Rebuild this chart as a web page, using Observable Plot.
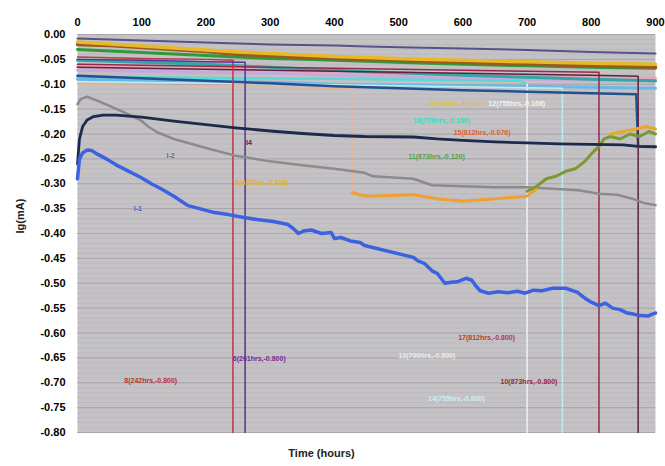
<!DOCTYPE html>
<html>
<head>
<meta charset="utf-8">
<script src="https://cdn.jsdelivr.net/npm/d3@7"></script>
<script src="https://cdn.jsdelivr.net/npm/@observablehq/plot@0.6"></script>
<style>
  html, body { margin: 0; padding: 0; background: #ffffff; }
  #chart svg { display: block; }
</style>
</head>
<body>
<div id="chart"></div>
<script>
// ---- axis ticks ----
const xTicks = [0, 100, 200, 300, 400, 500, 600, 700, 800, 900];
const yTicks = [0, -0.05, -0.10, -0.15, -0.20, -0.25, -0.30, -0.35, -0.40, -0.45, -0.50, -0.55, -0.60, -0.65, -0.70, -0.75, -0.80];

// ---- sample I-1 (blue) ----
const tI1 = [0,3,8,15,22,30,45,60,80,98,115,130,150,172,190,213,235,259,280,305,328,336,344,352,364,380,395,400,410,425,440,447,523,530,540,552,560,572,582,591,605,614,620,627,640,655,670,685,697,710,723,740,760,778,790,800,812,822,833,845,856,866,875,888,895,900];
const vI1 = [-0.29,-0.25,-0.238,-0.232,-0.233,-0.24,-0.25,-0.262,-0.275,-0.287,-0.3,-0.31,-0.325,-0.344,-0.35,-0.358,-0.362,-0.368,-0.372,-0.376,-0.382,-0.39,-0.4,-0.395,-0.393,-0.4,-0.398,-0.41,-0.408,-0.415,-0.418,-0.424,-0.448,-0.455,-0.46,-0.475,-0.48,-0.5,-0.498,-0.497,-0.49,-0.494,-0.505,-0.515,-0.52,-0.517,-0.519,-0.516,-0.52,-0.514,-0.515,-0.51,-0.51,-0.518,-0.53,-0.538,-0.545,-0.54,-0.55,-0.553,-0.56,-0.562,-0.565,-0.566,-0.562,-0.56];

// ---- sample I4 (navy) ----
const tI4 = [0,3,8,15,25,40,60,100,150,200,250,300,350,400,447,523,560,600,650,700,750,800,850,873,900];
const vI4 = [-0.26,-0.21,-0.185,-0.172,-0.165,-0.162,-0.162,-0.166,-0.174,-0.181,-0.188,-0.194,-0.199,-0.203,-0.205,-0.206,-0.21,-0.213,-0.216,-0.218,-0.22,-0.221,-0.222,-0.225,-0.226];

// ---- sample I-2 (gray) ----
const tI2 = [0,5,15,40,70,98,110,125,150,200,244,300,350,400,447,460,523,552,600,650,700,740,780,812,840,864,880,900];
const vI2 = [-0.14,-0.13,-0.125,-0.138,-0.155,-0.172,-0.185,-0.197,-0.21,-0.228,-0.243,-0.255,-0.263,-0.27,-0.278,-0.285,-0.29,-0.303,-0.305,-0.307,-0.307,-0.31,-0.313,-0.32,-0.322,-0.33,-0.338,-0.343];

// ---- upper cluster samples ----
const tTop = [0,50,100,150,200,250,300,350,400,450,520,600,700,800,900];
const vGold  = [-0.015,-0.019,-0.023,-0.027,-0.031,-0.035,-0.038,-0.041,-0.044,-0.046,-0.049,-0.052,-0.055,-0.058,-0.06];
const vBrown = [-0.02,-0.022,-0.026,-0.03,-0.034,-0.04,-0.043,-0.046,-0.048,-0.05,-0.053,-0.056,-0.06,-0.063,-0.066];
const vSlate = [-0.008,-0.01,-0.012,-0.014,-0.016,-0.018,-0.02,-0.021,-0.022,-0.024,-0.026,-0.028,-0.031,-0.035,-0.038];
const vGreen = [-0.03,-0.033,-0.036,-0.039,-0.042,-0.045,-0.048,-0.05,-0.052,-0.054,-0.057,-0.06,-0.063,-0.066,-0.068];
const vTeal  = [-0.052,-0.054,-0.056,-0.058,-0.06,-0.063,-0.066,-0.069,-0.072,-0.075,-0.078,-0.082,-0.086,-0.09,-0.093];
const vPink  = [-0.065,-0.066,-0.067,-0.068,-0.069,-0.07,-0.072,-0.074,-0.076,-0.078,-0.08,-0.082,-0.084,-0.086,-0.088];
const vLav   = [-0.072,-0.073,-0.074,-0.075,-0.076,-0.077,-0.078,-0.08,-0.082,-0.084,-0.086,-0.088,-0.09,-0.092,-0.094];
const vSky   = [-0.09,-0.091,-0.092,-0.093,-0.094,-0.095,-0.096,-0.098,-0.1,-0.101,-0.102,-0.103,-0.104,-0.106,-0.108];

// ---- samples that end with a drop ----
const tDBlue = [0,100,200,300,400,500,600,700,800,870,873];
const vDBlue = [-0.083,-0.088,-0.093,-0.098,-0.104,-0.108,-0.112,-0.115,-0.118,-0.12,-0.225];
const tRed = [0,100,200,242,242];
const vRed = [-0.045,-0.048,-0.05,-0.052,-0.8];
const tPurple = [0,100,200,261,261];
const vPurple = [-0.05,-0.052,-0.055,-0.056,-0.8];
const tCyan = [0,200,400,520,600,690,700];
const vCyan = [-0.085,-0.087,-0.089,-0.091,-0.092,-0.093,-0.1];
const tCyanDrop = [700,700];
const vCyanDrop = [-0.1,-0.8];
const tLCyan = [0,200,400,600,755,755];
const vLCyan = [-0.095,-0.098,-0.101,-0.105,-0.108,-0.8];
const tMaroon = [0,200,400,600,812,812];
const vMaroon = [-0.06,-0.064,-0.068,-0.072,-0.076,-0.8];
const tDMaroon = [0,200,400,600,800,873,873];
const vDMaroon = [-0.066,-0.07,-0.074,-0.078,-0.082,-0.084,-0.8];
const tSalmon = [0,100,200,300,400,427,428];
const vSalmon = [-0.1,-0.102,-0.104,-0.106,-0.108,-0.11,-0.318];
const tOrange = [428,440,450,523,560,600,650,700,715];
const vOrange = [-0.318,-0.322,-0.325,-0.322,-0.33,-0.335,-0.33,-0.325,-0.31];
const tOlive = [700,715,730,745,760,775,790,800,812,820,830,845,860,875,890,900];
const vOlive = [-0.315,-0.305,-0.29,-0.285,-0.275,-0.27,-0.255,-0.24,-0.225,-0.21,-0.205,-0.21,-0.2,-0.205,-0.195,-0.2];
const tOrange2 = [830,850,870,885,900];
const vOrange2 = [-0.2,-0.195,-0.19,-0.185,-0.19];
const tMagenta = [873,900];
const vMagenta = [-0.225,-0.225];

// ---- point labels ----
const labelText = ["I-1","I-2","I4","8(242hrs,-0.800)","6(261hrs,-0.800)","13(700hrs,-0.800)","17(812hrs,-0.800)","10(873hrs,-0.800)","14(755hrs,-0.800)","5(427hrs,-0.318)","9(700hrs,-0.093)","12(755hrs,-0.108)","16(700hrs,-0.100)","15(812hrs,-0.076)","11(873hrs,-0.120)"];
const labelT = [94,145,267,114,283,544,637,703,590,287,590,684,567,630,559];
const labelV = [-0.35,-0.243,-0.217,-0.695,-0.651,-0.645,-0.61,-0.697,-0.733,-0.298,-0.139,-0.139,-0.173,-0.197,-0.245];
const labelColor = ["#4a5fd0","#707070","#303050","#c03030","#7a2a90","#e8ecec","#b04030","#a02838","#c8f0f4","#e0b030","#e8c040","#f4f4f4","#40d8c0","#e06030","#50a050"];

const rows = (ts, vs) => ts.map((t, i) => ({t, v: vs[i]}));
const line = (ts, vs, stroke, w) => Plot.line(rows(ts, vs), {x: "t", y: "v", stroke, strokeWidth: w, strokeLinejoin: "round", strokeLinecap: "round"});

const minorGrid = d3.range(0, 81).map(i => -i / 100);

const labels = labelText.map((text, i) => ({text, t: labelT[i], v: labelV[i], c: labelColor[i]}));

const chart = Plot.plot({
  width: 665,
  height: 466,
  marginLeft: 77,
  marginRight: 10,
  marginTop: 34,
  marginBottom: 34,
  x: {domain: [0, 900]},
  y: {domain: [-0.8, 0]},
  style: {fontFamily: "'Liberation Sans', Arial, sans-serif", background: "#ffffff"},
  marks: [
    Plot.frame({fill: "#c4c2c5"}),
    Plot.ruleY(minorGrid, {stroke: "#b8b6ba", strokeWidth: 0.6}),
    Plot.ruleY(yTicks, {stroke: "#a6a4a8", strokeWidth: 0.9}),
    line(tTop, vLav, "#c8a8e0", 3),
    line(tTop, vPink, "#e6a6b8", 3),
    line(tTop, vSky, "#6ab8e8", 3),
    line(tTop, vTeal, "#30a8a8", 3),
    line(tTop, vGreen, "#2e9a3a", 3),
    line(tTop, vBrown, "#9a5a1e", 3.5),
    line(tTop, vGold, "#e8b828", 3.5),
    line(tTop, vSlate, "#54548a", 2),
    line(tSalmon, vSalmon, "#e8b49a", 1.5),
    line(tCyan, vCyan, "#5ad8d4", 2.5),
    line(tCyanDrop, vCyanDrop, "#eef2f2", 1.5),
    line(tLCyan, vLCyan, "#b8eef2", 1.5),
    line(tDBlue, vDBlue, "#24508e", 2.5),
    line(tMaroon, vMaroon, "#9a2848", 1.5),
    line(tDMaroon, vDMaroon, "#5a2440", 1.5),
    line(tRed, vRed, "#b83a48", 1.5),
    line(tPurple, vPurple, "#5a3098", 1.5),
    line(tI2, vI2, "#8c8a8c", 2.5),
    line(tOrange, vOrange, "#f0a030", 3),
    line(tOlive, vOlive, "#7a9a30", 3),
    line(tOrange2, vOrange2, "#e8a828", 3),
    line(tMagenta, vMagenta, "#e040c0", 3),
    line(tI4, vI4, "#1c2a4e", 2.8),
    line(tI1, vI1, "#3d62e0", 3.5),
    Plot.text(labels, {x: "t", y: "v", text: "text", fill: "c", fontSize: 7, fontWeight: "bold"}),
    Plot.axisX({anchor: "top", ticks: xTicks, tickSize: 0, tickPadding: 9, fontSize: 11, fontWeight: "bold", label: null}),
    Plot.axisY({ticks: yTicks, tickSize: 0, tickPadding: 12, tickFormat: d => d.toFixed(2), fontSize: 11, fontWeight: "bold", label: null}),
    Plot.text(["Ig(mA)"], {frameAnchor: "left", dx: -57, rotate: -90, fontSize: 11, fontWeight: "bold", fill: "#222"}),
    Plot.text(["Time (hours)"], {x: 380, frameAnchor: "bottom", dy: 24, fontSize: 11, fontWeight: "bold", fill: "#222"})
  ]
});

document.getElementById("chart").appendChild(chart);
</script>
</body>
</html>
